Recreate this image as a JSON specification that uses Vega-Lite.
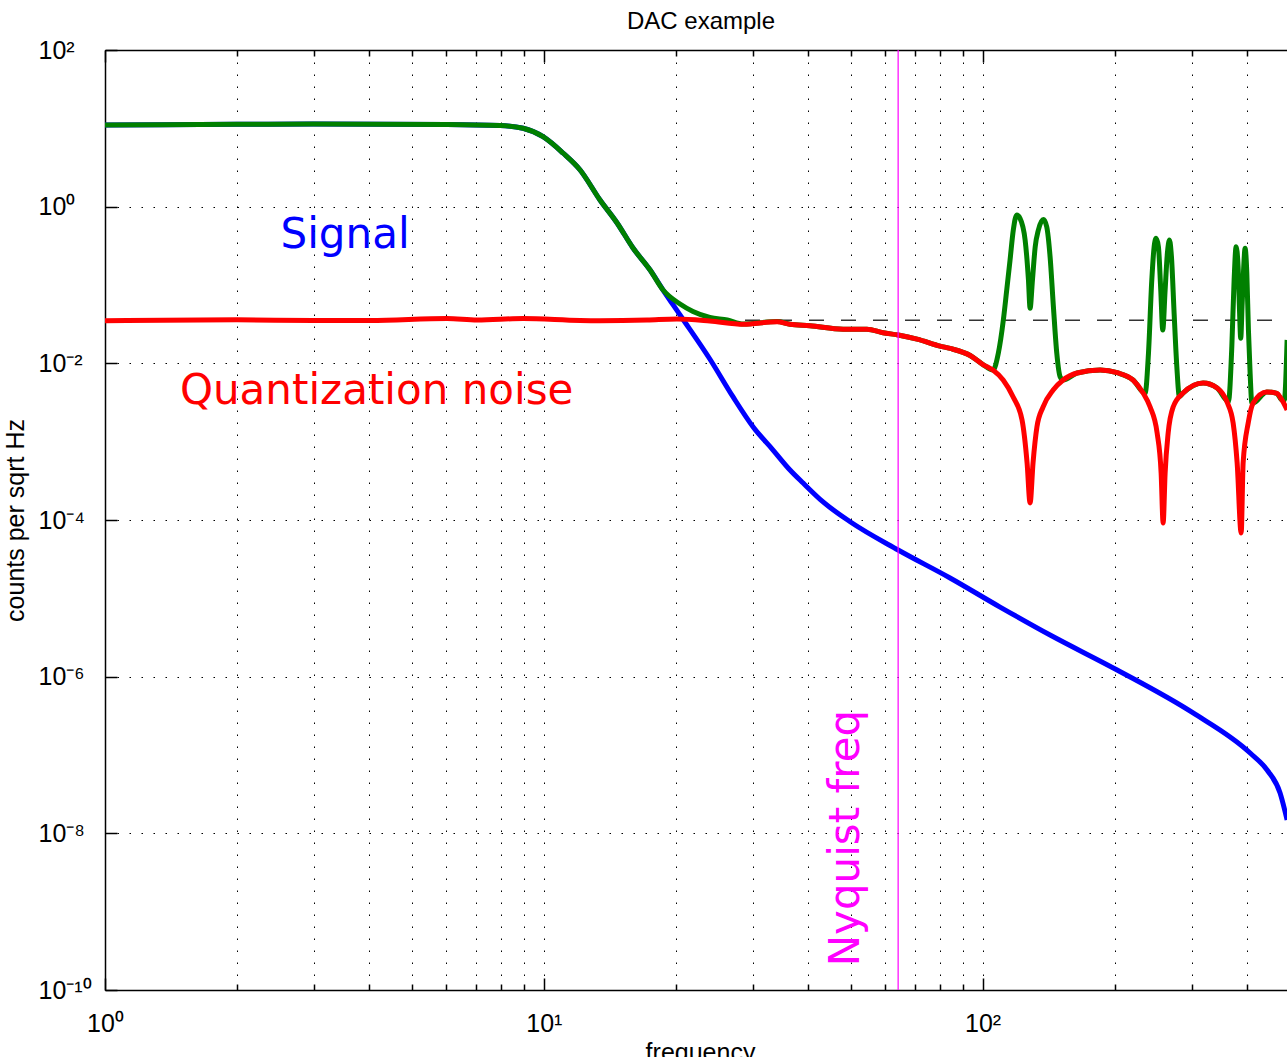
{
  "$schema": "https://vega.github.io/schema/vega-lite/v6.json",
  "width": 1182,
  "height": 940,
  "autosize": {"type": "none"},
  "padding": {"left": 105, "top": 50, "right": 0, "bottom": 67},
  "background": "white",
  "view": {"stroke": null},
  "title": {"text": "DAC example", "font": "Liberation Sans", "fontSize": 24, "fontWeight": "normal", "color": "#000", "anchor": "middle", "frame": "group", "baseline": "alphabetic", "offset": 20, "dx": 5, "dy": 35},
  "datasets": {
    "signal": [
      {"f": 1, "v": 11.03}, {"f": 2.0, "v": 11.26}, {"f": 2.98, "v": 11.36}, {"f": 6.02, "v": 11.19}, {"f": 7.95, "v": 10.87}, {"f": 8.97, "v": 10.01}, {"f": 9.96, "v": 7.82}, {"f": 11.06, "v": 4.84}, {"f": 12.1, "v": 2.94}, {"f": 13.43, "v": 1.216}, {"f": 14.69, "v": 0.619}, {"f": 15.97, "v": 0.2965}, {"f": 17.47, "v": 0.1553}, {"f": 18.7, "v": 0.0863}, {"f": 20.44, "v": 0.0414}, {"f": 23.9, "v": 0.01135}, {"f": 27.0, "v": 0.00372}, {"f": 30.0, "v": 0.00154}, {"f": 33.3, "v": 0.000782}, {"f": 36.4, "v": 0.000435}, {"f": 39.0, "v": 0.000296}, {"f": 43.3, "v": 0.00017}, {"f": 49.9, "v": 0.000095}, {"f": 64.2, "v": 0.0000414}, {"f": 84.3, "v": 0.0000182}, {"f": 109.6, "v": 0.00000774}, {"f": 142.5, "v": 0.0000034}, {"f": 202.6, "v": 0.000001216}, {"f": 301.8, "v": 3.44e-7}, {"f": 407.1, "v": 1.06e-7}, {"f": 445.0, "v": 6.43e-8}, {"f": 476.4, "v": 3.27e-8}, {"f": 494.3, "v": 1.48e-8}
    ],
    "noise": [
      {"f": 1, "v": 0.035}, {"f": 2.0, "v": 0.0359}, {"f": 2.98, "v": 0.0352}, {"f": 4.02, "v": 0.0352}, {"f": 6.02, "v": 0.0373}, {"f": 7.05, "v": 0.0357}, {"f": 8.97, "v": 0.0373}, {"f": 12.1, "v": 0.0352}, {"f": 13.4, "v": 0.035}, {"f": 17.2, "v": 0.0357}, {"f": 20.1, "v": 0.0368}, {"f": 23.9, "v": 0.0347}, {"f": 28.5, "v": 0.0315}, {"f": 34.0, "v": 0.034}, {"f": 36.4, "v": 0.0315}, {"f": 40.4, "v": 0.0302}, {"f": 48.1, "v": 0.0272}, {"f": 54.5, "v": 0.0272}, {"f": 59.3, "v": 0.0246}, {"f": 64.2, "v": 0.023}, {"f": 70.9, "v": 0.0204}, {"f": 80.0, "v": 0.0166}, {"f": 84.3, "v": 0.0155}, {"f": 93.7, "v": 0.0126}, {"f": 100.2, "v": 0.00966}, {"f": 105.6, "v": 0.00822}, {"f": 111.4, "v": 0.00613}, {"f": 117.4, "v": 0.00372}, {"f": 123.0, "v": 0.00189}, {"f": 126.3, "v": 0.000534}, {"f": 128.3, "v": 0.000165}, {"f": 130.3, "v": 0.000534}, {"f": 133.0, "v": 0.00154}, {"f": 137.3, "v": 0.00277}, {"f": 144.8, "v": 0.00456}, {"f": 152.6, "v": 0.00612}, {"f": 164.2, "v": 0.00752}, {"f": 185.3, "v": 0.00822}, {"f": 202.6, "v": 0.00759}, {"f": 220.3, "v": 0.00612}, {"f": 232.2, "v": 0.00418}, {"f": 240.9, "v": 0.00277}, {"f": 249.9, "v": 0.00129}, {"f": 255.2, "v": 0.000398}, {"f": 257.9, "v": 0.0000915}, {"f": 260.6, "v": 0.000398}, {"f": 264.8, "v": 0.00129}, {"f": 271.8, "v": 0.00277}, {"f": 286.4, "v": 0.00418}, {"f": 318.1, "v": 0.00561}, {"f": 342.4, "v": 0.00484}, {"f": 360.6, "v": 0.00321}, {"f": 372.4, "v": 0.00173}, {"f": 380.3, "v": 0.000534}, {"f": 388.4, "v": 0.0000683}, {"f": 392.4, "v": 0.000534}, {"f": 403.0, "v": 0.00173}, {"f": 413.5, "v": 0.00311}, {"f": 444.3, "v": 0.00431}, {"f": 468.4, "v": 0.00414}, {"f": 481.0, "v": 0.0034}, {"f": 494.3, "v": 0.00254}
    ],
    "total": [
      {"f": 1, "v": 11.03}, {"f": 2.0, "v": 11.26}, {"f": 2.98, "v": 11.36}, {"f": 6.02, "v": 11.19}, {"f": 7.95, "v": 10.87}, {"f": 8.97, "v": 10.01}, {"f": 9.96, "v": 7.82}, {"f": 11.06, "v": 4.84}, {"f": 12.1, "v": 2.94}, {"f": 13.43, "v": 1.216}, {"f": 14.69, "v": 0.619}, {"f": 15.97, "v": 0.2965}, {"f": 17.47, "v": 0.1553}, {"f": 18.7, "v": 0.0863}, {"f": 20.44, "v": 0.0572}, {"f": 21.88, "v": 0.0459}, {"f": 23.9, "v": 0.0385}, {"f": 26.2, "v": 0.0357}, {"f": 28.5, "v": 0.0318}, {"f": 34.0, "v": 0.0341}, {"f": 36.4, "v": 0.0316}, {"f": 40.4, "v": 0.0302}, {"f": 48.1, "v": 0.0272}, {"f": 54.5, "v": 0.0272}, {"f": 59.3, "v": 0.0246}, {"f": 64.2, "v": 0.023}, {"f": 70.9, "v": 0.0204}, {"f": 80.0, "v": 0.0166}, {"f": 84.3, "v": 0.0155}, {"f": 93.7, "v": 0.0126}, {"f": 100.2, "v": 0.00966}, {"f": 105.6, "v": 0.00822},
      {"f": 108.6, "v": 0.01343}, {"f": 111.5, "v": 0.0357}, {"f": 113.5, "v": 0.0863}, {"f": 115.5, "v": 0.2085}, {"f": 117.5, "v": 0.504}, {"f": 119.6, "v": 0.782}, {"f": 121.7, "v": 0.71}, {"f": 125.0, "v": 0.3753}, {"f": 127.2, "v": 0.116}, {"f": 128.3, "v": 0.0505}, {"f": 129.9, "v": 0.116}, {"f": 131.8, "v": 0.308}, {"f": 134.0, "v": 0.504}, {"f": 137.6, "v": 0.686}, {"f": 140.0, "v": 0.5546}, {"f": 142.5, "v": 0.2296}, {"f": 145.0, "v": 0.0528}, {"f": 147.6, "v": 0.01343}, {"f": 150.2, "v": 0.00675},
      {"f": 152.6, "v": 0.00612}, {"f": 164.2, "v": 0.00752}, {"f": 185.3, "v": 0.00822}, {"f": 202.6, "v": 0.00759}, {"f": 220.3, "v": 0.00612},
      {"f": 234.6, "v": 0.00414}, {"f": 238.8, "v": 0.01343}, {"f": 243.0, "v": 0.116}, {"f": 246.0, "v": 0.308}, {"f": 248.6, "v": 0.394}, {"f": 251.6, "v": 0.308}, {"f": 254.7, "v": 0.0863}, {"f": 257.4, "v": 0.0266}, {"f": 260.6, "v": 0.0863}, {"f": 263.7, "v": 0.2537}, {"f": 266.6, "v": 0.3753}, {"f": 269.4, "v": 0.2296}, {"f": 273.2, "v": 0.0435}, {"f": 277.1, "v": 0.00906}, {"f": 280.9, "v": 0.00375},
      {"f": 286.4, "v": 0.00418}, {"f": 318.1, "v": 0.00561}, {"f": 342.4, "v": 0.00484},
      {"f": 363.3, "v": 0.00324}, {"f": 369.8, "v": 0.0163}, {"f": 374.3, "v": 0.116}, {"f": 378.2, "v": 0.308}, {"f": 382.2, "v": 0.171}, {"f": 384.8, "v": 0.0528}, {"f": 387.5, "v": 0.0209}, {"f": 390.2, "v": 0.0528}, {"f": 393.0, "v": 0.141}, {"f": 396.5, "v": 0.294}, {"f": 400.1, "v": 0.141}, {"f": 403.5, "v": 0.0266}, {"f": 407.1, "v": 0.00746}, {"f": 410.8, "v": 0.00312},
      {"f": 413.5, "v": 0.00311}, {"f": 444.3, "v": 0.00431}, {"f": 468.4, "v": 0.00414}, {"f": 481.0, "v": 0.0034}, {"f": 487.1, "v": 0.0034}, {"f": 494.3, "v": 0.0199}
    ],
    "qlevel": [{"f": 1, "v": 0.0355}, {"f": 494.3, "v": 0.0355}],
    "nyquist": [{"f": 64.2}],
    "signalLabel": [{"f": 3.524, "v": 0.2967, "text": "Signal"}],
    "noiseLabel": [{"f": 4.16, "v": 0.00303, "text": "Quantization noise"}],
    "nyquistLabel": [{"f": 52.3, "v": 8.7e-9, "text": "Nyquist freq"}]
  },
  "resolve": {"axis": {"x": "independent", "y": "independent"}},
  "layer": [
    {
      "data": {"name": "qlevel"},
      "mark": {"type": "line", "color": "#333333", "strokeWidth": 1.5, "strokeDash": [15, 17], "clip": true},
      "encoding": {
        "x": {"field": "f", "type": "quantitative", "scale": {"type": "log", "domain": [1, 494], "nice": false},
          "axis": {"orient": "bottom", "values": [1, 10, 100], "labelExpr": "datum.value < 1.5 ? '10\u2070' : datum.value < 15 ? '10\u00b9' : '10\u00b2'",
            "grid": true, "gridDash": [1.5, 10.5], "gridColor": "#000", "gridOpacity": 1, "gridWidth": 1,
            "tickSize": -12, "tickColor": "#000", "tickWidth": 1.5, "domainColor": "#000", "domainWidth": 1.5,
            "labelFont": "Liberation Sans", "labelFontSize": 25, "labelColor": "#000", "labelPadding": 33, "labelFlush": false, "labelOverlap": false, "labelBound": false,
            "title": "frequency", "titleFont": "Liberation Sans", "titleFontSize": 25, "titleFontWeight": "normal", "titleColor": "#000", "titleBaseline": "alphabetic", "titleAlign": "center", "titleX": 595, "titleY": 70}},
        "y": {"field": "v", "type": "quantitative", "scale": {"type": "log", "domain": [1e-10, 100], "nice": false},
          "axis": {"orient": "left", "values": [100, 1, 0.01, 0.0001, 0.000001, 1e-8, 1e-10],
            "labelExpr": "datum.value > 10 ? '10\u00b2' : datum.value > 0.1 ? '10\u2070' : datum.value > 0.001 ? '10\u207b\u00b2' : datum.value > 0.00001 ? '10\u207b\u2074' : datum.value > 0.0000001 ? '10\u207b\u2076' : datum.value > 0.000000001 ? '10\u207b\u2078' : '10\u207b\u00b9\u2070'",
            "grid": true, "gridDash": [1.5, 10.5], "gridColor": "#000", "gridOpacity": 1, "gridWidth": 1,
            "tickSize": -12, "tickColor": "#000", "tickWidth": 1.5, "domainColor": "#000", "domainWidth": 1.5,
            "labelFont": "Liberation Sans", "labelFontSize": 25, "labelColor": "#000", "labelAlign": "left", "labelBaseline": "middle", "labelPadding": 79, "labelFlush": false, "labelOverlap": false, "labelBound": false,
            "title": "counts per sqrt Hz", "titleFont": "Liberation Sans", "titleFontSize": 25, "titleFontWeight": "normal", "titleColor": "#000", "titleBaseline": "alphabetic", "titleAlign": "center", "titleAngle": 270, "titleX": -82, "titleY": 470}}
      }
    },
    {
      "data": {"name": "signal"},
      "mark": {"type": "line", "color": "#0000ff", "strokeWidth": 5, "interpolate": "monotone", "clip": true},
      "encoding": {
        "x": {"field": "f", "type": "quantitative", "scale": {"type": "log", "domain": [1, 494], "nice": false},
          "axis": {"orient": "bottom", "values": [2, 3, 4, 5, 6, 7, 8, 9, 20, 30, 40, 50, 60, 70, 80, 90, 200, 300, 400], "labels": false, "domain": false, "title": null,
            "grid": true, "gridDash": [1.5, 10.5], "gridColor": "#000", "gridOpacity": 1, "gridWidth": 1,
            "tickSize": -6, "tickColor": "#000", "tickWidth": 1.5}},
        "y": {"field": "v", "type": "quantitative", "scale": {"type": "log", "domain": [1e-10, 100], "nice": false}, "axis": null}
      }
    },
    {
      "data": {"name": "total"},
      "mark": {"type": "line", "color": "#008000", "strokeWidth": 5, "interpolate": "monotone", "clip": true},
      "encoding": {
        "x": {"field": "f", "type": "quantitative", "scale": {"type": "log", "domain": [1, 494], "nice": false},
          "axis": {"orient": "top", "values": [1, 10, 100], "labels": false, "grid": false, "title": null,
            "tickSize": -12, "tickColor": "#000", "tickWidth": 1.5, "domainColor": "#000", "domainWidth": 1.5}},
        "y": {"field": "v", "type": "quantitative", "scale": {"type": "log", "domain": [1e-10, 100], "nice": false}, "axis": null}
      }
    },
    {
      "data": {"name": "noise"},
      "mark": {"type": "line", "color": "#ff0000", "strokeWidth": 5, "interpolate": "monotone", "clip": true},
      "encoding": {
        "x": {"field": "f", "type": "quantitative", "scale": {"type": "log", "domain": [1, 494], "nice": false},
          "axis": {"orient": "top", "values": [2, 3, 4, 5, 6, 7, 8, 9, 20, 30, 40, 50, 60, 70, 80, 90, 200, 300, 400], "labels": false, "domain": false, "grid": false, "title": null,
            "tickSize": -6, "tickColor": "#000", "tickWidth": 1.5}},
        "y": {"field": "v", "type": "quantitative", "scale": {"type": "log", "domain": [1e-10, 100], "nice": false}, "axis": null}
      }
    },
    {
      "data": {"name": "nyquist"},
      "mark": {"type": "rule", "color": "#ff00ff", "strokeWidth": 1.2},
      "encoding": {
        "x": {"field": "f", "type": "quantitative", "scale": {"type": "log", "domain": [1, 494], "nice": false}, "axis": null}
      }
    },
    {
      "data": {"name": "signalLabel"},
      "mark": {"type": "text", "color": "#0000ff", "font": "DejaVu Sans", "fontSize": 42, "align": "center", "baseline": "alphabetic"},
      "encoding": {
        "x": {"field": "f", "type": "quantitative", "scale": {"type": "log", "domain": [1, 494], "nice": false}, "axis": null},
        "y": {"field": "v", "type": "quantitative", "scale": {"type": "log", "domain": [1e-10, 100], "nice": false}, "axis": null},
        "text": {"field": "text"}
      }
    },
    {
      "data": {"name": "noiseLabel"},
      "mark": {"type": "text", "color": "#ff0000", "font": "DejaVu Sans", "fontSize": 42, "align": "center", "baseline": "alphabetic"},
      "encoding": {
        "x": {"field": "f", "type": "quantitative", "scale": {"type": "log", "domain": [1, 494], "nice": false}, "axis": null},
        "y": {"field": "v", "type": "quantitative", "scale": {"type": "log", "domain": [1e-10, 100], "nice": false}, "axis": null},
        "text": {"field": "text"}
      }
    },
    {
      "data": {"name": "nyquistLabel"},
      "mark": {"type": "text", "color": "#ff00ff", "font": "DejaVu Sans", "fontSize": 42, "align": "center", "baseline": "alphabetic", "angle": 270},
      "encoding": {
        "x": {"field": "f", "type": "quantitative", "scale": {"type": "log", "domain": [1, 494], "nice": false}, "axis": null},
        "y": {"field": "v", "type": "quantitative", "scale": {"type": "log", "domain": [1e-10, 100], "nice": false}, "axis": null},
        "text": {"field": "text"}
      }
    }
  ]
}
